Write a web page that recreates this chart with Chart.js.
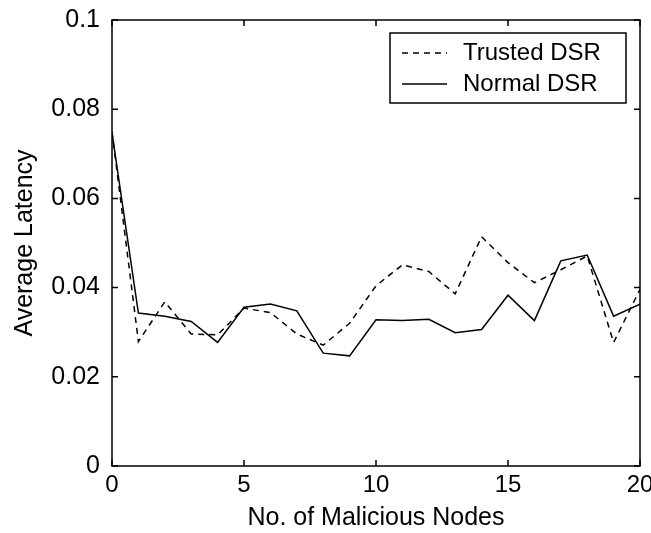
<!DOCTYPE html>
<html>
<head>
<meta charset="utf-8">
<script src="https://cdn.jsdelivr.net/npm/chart.js@4/dist/chart.umd.min.js"></script>
<style>
  html, body { margin: 0; padding: 0; background: #fff; }
  #wrap { width: 651px; height: 533px; }
</style>
</head>
<body>
<div id="wrap"><canvas id="latencyChart" width="651" height="533"></canvas></div>
<script>
// x values: number of malicious nodes
const NODES = [0, 1, 2, 3, 4, 5, 6, 7, 8, 9, 10, 11, 12, 13, 14, 15, 16, 17, 18, 19, 20];

const TRUSTED_DSR = [0.0750, 0.0279, 0.0368, 0.0296, 0.0294, 0.0354, 0.0344, 0.0296, 0.0271, 0.0320, 0.0404,
  0.0451, 0.0436, 0.0386, 0.0514, 0.0456, 0.0411, 0.0440, 0.0471, 0.0277, 0.0396];
const NORMAL_DSR = [0.0747, 0.0343, 0.0336, 0.0324, 0.0277, 0.0356, 0.0363, 0.0348, 0.0253, 0.0247, 0.0328,
  0.0326, 0.0329, 0.0299, 0.0306, 0.0383, 0.0326, 0.0460, 0.0473, 0.0336, 0.0363];

const SERIES_LABELS = ["Trusted DSR", "Normal DSR"];
const X_TITLE = "No. of Malicious Nodes";
const Y_TITLE = "Average Latency";

const FONT = "'Liberation Sans', Arial, Helvetica, sans-serif";

function toPoints(values) {
  return NODES.map((n, i) => ({ x: n, y: values[i] }));
}

// matlab style box with inward ticks
const boxPlugin = {
  id: "box",
  afterDatasetsDraw(chart) {
    const { ctx, chartArea: a, scales } = chart;
    const tick = 6;
    ctx.save();
    ctx.strokeStyle = "#000";
    ctx.lineWidth = 1.5;
    ctx.strokeRect(a.left, a.top, a.right - a.left, a.bottom - a.top);
    ctx.beginPath();
    scales.x.ticks.forEach((t) => {
      const px = scales.x.getPixelForValue(t.value);
      ctx.moveTo(px, a.bottom);
      ctx.lineTo(px, a.bottom - tick);
      ctx.moveTo(px, a.top);
      ctx.lineTo(px, a.top + tick);
    });
    scales.y.ticks.forEach((t) => {
      const py = scales.y.getPixelForValue(t.value);
      ctx.moveTo(a.left, py);
      ctx.lineTo(a.left + tick, py);
      ctx.moveTo(a.right, py);
      ctx.lineTo(a.right - tick, py);
    });
    ctx.stroke();
    ctx.restore();
  },
};

// legend box in the upper right corner of the plot
const legendPlugin = {
  id: "boxLegend",
  afterDraw(chart) {
    const { ctx, chartArea: a } = chart;
    const w = 236, h = 70;
    const x0 = a.right - 14 - w, y0 = a.top + 13;
    ctx.save();
    ctx.fillStyle = "#fff";
    ctx.fillRect(x0, y0, w, h);
    ctx.strokeStyle = "#000";
    ctx.lineWidth = 1.5;
    ctx.strokeRect(x0, y0, w, h);
    ctx.font = "24px " + FONT;
    ctx.textBaseline = "middle";
    ctx.fillStyle = "#000";
    chart.data.datasets.forEach((ds, i) => {
      const y = y0 + 20 + i * 31;
      ctx.beginPath();
      ctx.setLineDash(ds.borderDash || []);
      ctx.lineWidth = ds.borderWidth;
      ctx.moveTo(x0 + 12, y);
      ctx.lineTo(x0 + 57, y);
      ctx.stroke();
      ctx.setLineDash([]);
      ctx.fillText(ds.label, x0 + 73, y);
    });
    ctx.restore();
  },
};

document.addEventListener("DOMContentLoaded", () => {
  const ctx = document.getElementById("latencyChart").getContext("2d");
  new Chart(ctx, {
    type: "line",
    data: {
      datasets: [
        {
          label: SERIES_LABELS[0],
          data: toPoints(TRUSTED_DSR),
          borderColor: "#000",
          borderWidth: 1.5,
          borderDash: [6, 5],
          pointRadius: 0,
          tension: 0,
        },
        {
          label: SERIES_LABELS[1],
          data: toPoints(NORMAL_DSR),
          borderColor: "#000",
          borderWidth: 1.5,
          pointRadius: 0,
          tension: 0,
        },
      ],
    },
    options: {
      responsive: false,
      animation: false,
      events: [],
      layout: { padding: { top: 20, right: 11, left: 0, bottom: 0 } },
      plugins: {
        legend: { display: false },
        tooltip: { enabled: false },
      },
      scales: {
        x: {
          type: "linear",
          min: 0,
          max: 20,
          grid: { display: false, drawTicks: false },
          border: { display: false },
          ticks: {
            stepSize: 5,
            padding: 5,
            color: "#000",
            font: { family: FONT, size: 24 },
          },
          title: {
            display: true,
            text: X_TITLE,
            color: "#000",
            padding: { top: 0, bottom: 0 },
            font: { family: FONT, size: 25 },
          },
          afterFit(scale) {
            scale.height = 67;
            scale.paddingLeft = 0;
            scale.paddingRight = 0;
          },
        },
        y: {
          min: 0,
          max: 0.1,
          grid: { display: false, drawTicks: false },
          border: { display: false },
          ticks: {
            stepSize: 0.02,
            padding: 12,
            color: "#000",
            font: { family: FONT, size: 25 },
            callback: (v) => String(Math.round(v * 100) / 100),
          },
          title: {
            display: true,
            text: Y_TITLE,
            color: "#000",
            padding: { top: 10, bottom: 0 },
            font: { family: FONT, size: 25 },
          },
          afterFit(scale) {
            scale.width = 112;
            scale.paddingTop = 0;
            scale.paddingBottom = 0;
          },
        },
      },
    },
    plugins: [boxPlugin, legendPlugin],
  });
});
</script>
</body>
</html>
